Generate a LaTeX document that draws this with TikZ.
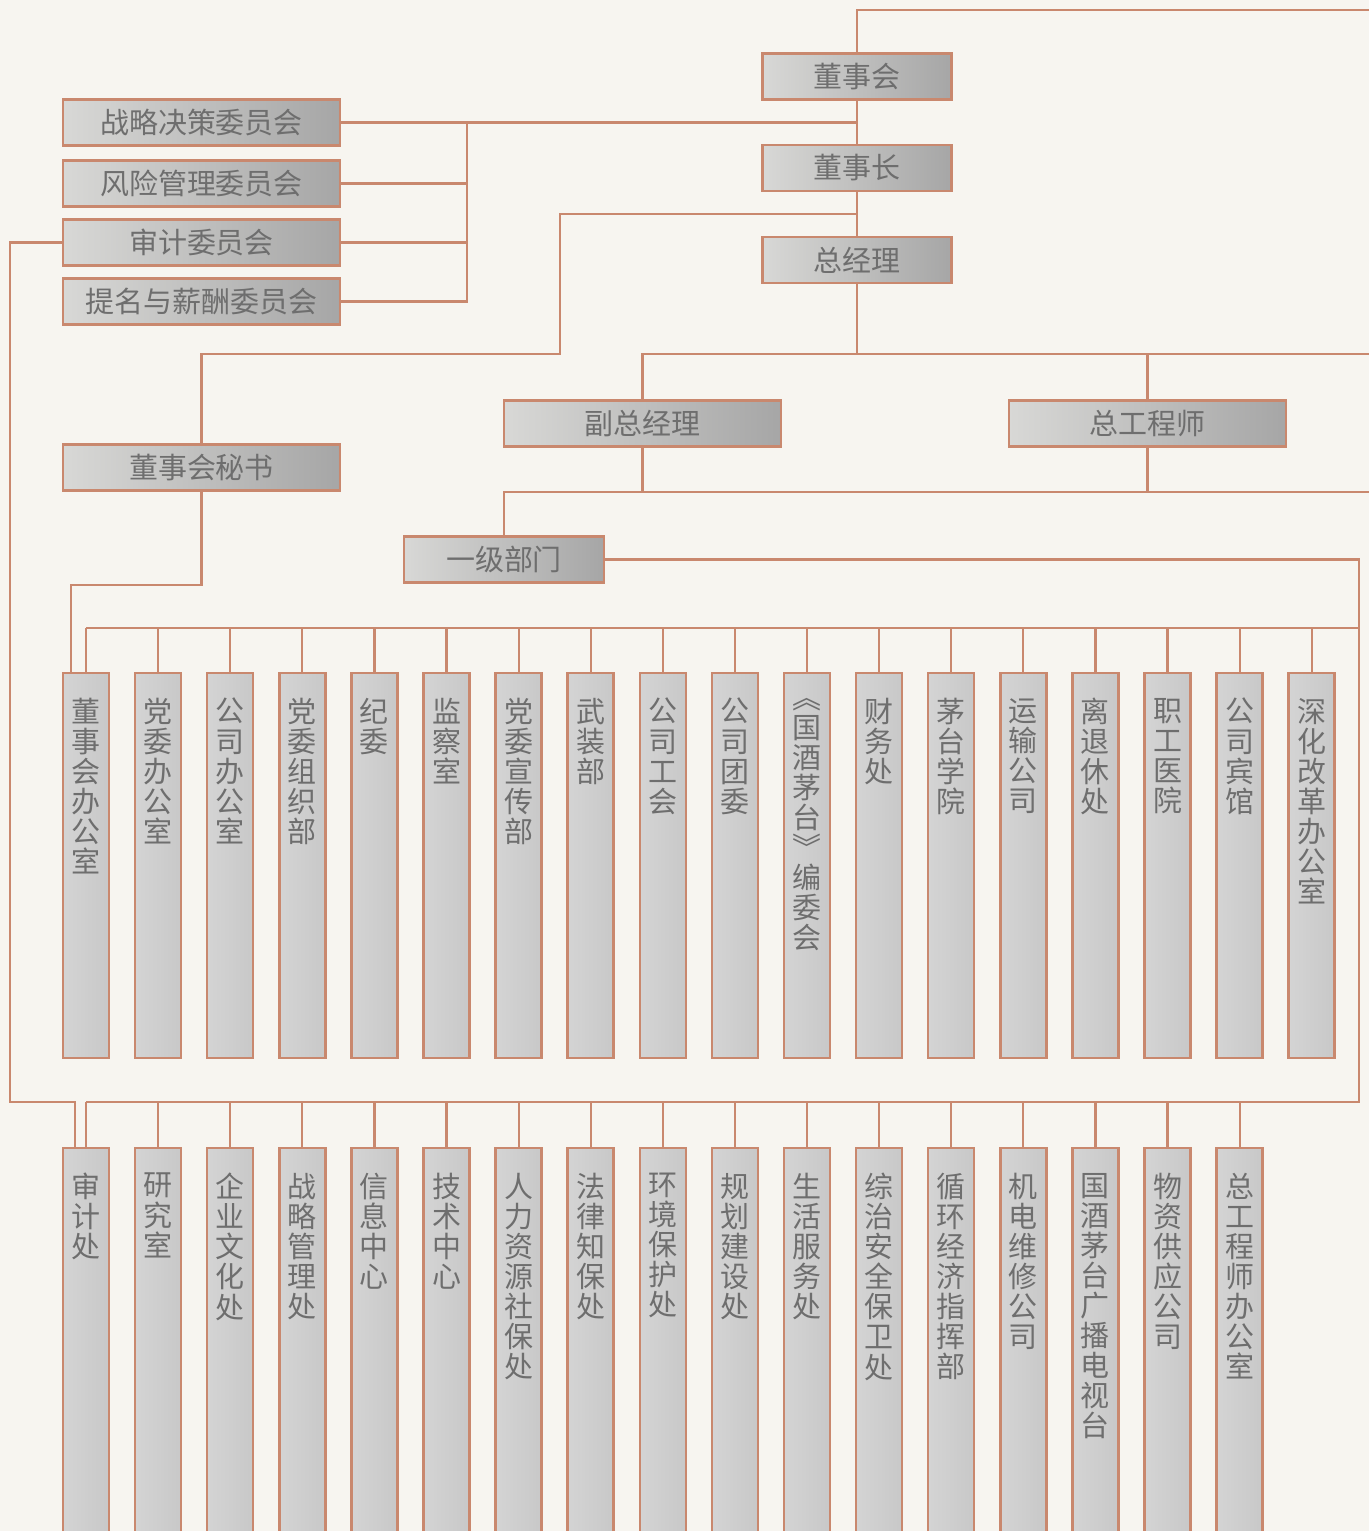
\documentclass[tikz,border=0pt]{standalone}
\usepackage{fontspec}
\newfontfamily\cjkfont{Noto Sans CJK SC}
\usepackage{tikz}
\usetikzlibrary{calc}

\definecolor{paper}{RGB}{247,245,240}
\definecolor{edge}{RGB}{201,136,110}
\definecolor{txt}{RGB}{110,110,110}
\definecolor{boxleft}{RGB}{216,216,214}
\definecolor{boxmid}{RGB}{228,228,226}
\definecolor{boxright}{RGB}{166,166,166}
\definecolor{colleft}{RGB}{212,212,212}
\definecolor{colmid}{RGB}{242,242,240}
\definecolor{colright}{RGB}{200,200,200}

\newcommand{\orgfont}{\cjkfont\fontsize{16.5}{17.1}\selectfont}
\def\stackchars#1{\ifx\relax#1\else#1\par\expandafter\stackchars\fi}
\newcommand{\vtext}[2]{\parbox[c][#1][t]{0.9cm}{\centering\vspace*{0.5cm}\stackchars#2\relax}}

\begin{document}
\begin{tikzpicture}[
    x=0.02cm, y=-0.02cm,
    box/.style={rectangle, draw=edge, line width=1.4pt, left color=boxleft, middle color=boxmid, right color=boxright, minimum width=5.54cm, minimum height=0.92cm, inner sep=0pt, text=txt, font=\orgfont},
    post/.style={box, minimum width=3.78cm},
    dept/.style={rectangle, draw=edge, line width=1.4pt, left color=colleft, middle color=colmid, right color=colright, minimum width=0.92cm, inner sep=0pt, anchor=north, text=txt, font=\orgfont},
    line/.style={draw=edge, line width=1.25pt}
]
    \path[use as bounding box, fill=paper] (0,0) rectangle (1369,1531);
    \clip (0,0) rectangle (1369,1531);

    % Board and management
    \node[post] (dsh) at (857,76.5) {董事会};
    \node[post] (dsz) at (857,168) {董事长};
    \node[post] (zjl) at (857,260) {总经理};

    % Committees
    \node[box] (zlc) at (201.5,122.5) {战略决策委员会};
    \node[box] (fxc) at (201.5,183.5) {风险管理委员会};
    \node[box] (sjc) at (201.5,242.5) {审计委员会};
    \node[box] (tmc) at (201.5,301.5) {提名与薪酬委员会};

    % Secretary, deputies, departments
    \node[box] (mishu) at (201.5,467.5) {董事会秘书};
    \node[box] (fzjl) at (642.5,423.5) {副总经理};
    \node[box] (zgcs) at (1147.5,423.5) {总工程师};
    \node[box, minimum width=4cm] (yjbm) at (504,559.5) {一级部门};

    % Upper row of departments
    \node[dept] (up1) at (86,672) {\vtext{7.7cm}{董事会办公室}};
    \node[dept] (up2) at (158.1,672) {\vtext{7.7cm}{党委办公室}};
    \node[dept] (up3) at (230.2,672) {\vtext{7.7cm}{公司办公室}};
    \node[dept] (up4) at (302.3,672) {\vtext{7.7cm}{党委组织部}};
    \node[dept] (up5) at (374.4,672) {\vtext{7.7cm}{纪委}};
    \node[dept] (up6) at (446.5,672) {\vtext{7.7cm}{监察室}};
    \node[dept] (up7) at (518.6,672) {\vtext{7.7cm}{党委宣传部}};
    \node[dept] (up8) at (590.7,672) {\vtext{7.7cm}{武装部}};
    \node[dept] (up9) at (662.8,672) {\vtext{7.7cm}{公司工会}};
    \node[dept] (up10) at (734.9,672) {\vtext{7.7cm}{公司团委}};
    \node[dept] (up11) at (807,672) {\vtext{7.7cm}{︽国酒茅台︾编委会}};
    \node[dept] (up12) at (879.1,672) {\vtext{7.7cm}{财务处}};
    \node[dept] (up13) at (951.2,672) {\vtext{7.7cm}{茅台学院}};
    \node[dept] (up14) at (1023.3,672) {\vtext{7.7cm}{运输公司}};
    \node[dept] (up15) at (1095.4,672) {\vtext{7.7cm}{离退休处}};
    \node[dept] (up16) at (1167.5,672) {\vtext{7.7cm}{职工医院}};
    \node[dept] (up17) at (1239.6,672) {\vtext{7.7cm}{公司宾馆}};
    \node[dept] (up18) at (1311.7,672) {\vtext{7.7cm}{深化改革办公室}};

    % Lower row of departments
    \node[dept] (lo1) at (86,1147) {\vtext{8cm}{审计处}};
    \node[dept] (lo2) at (158.1,1147) {\vtext{8cm}{研究室}};
    \node[dept] (lo3) at (230.2,1147) {\vtext{8cm}{企业文化处}};
    \node[dept] (lo4) at (302.3,1147) {\vtext{8cm}{战略管理处}};
    \node[dept] (lo5) at (374.4,1147) {\vtext{8cm}{信息中心}};
    \node[dept] (lo6) at (446.5,1147) {\vtext{8cm}{技术中心}};
    \node[dept] (lo7) at (518.6,1147) {\vtext{8cm}{人力资源社保处}};
    \node[dept] (lo8) at (590.7,1147) {\vtext{8cm}{法律知保处}};
    \node[dept] (lo9) at (662.8,1147) {\vtext{8cm}{环境保护处}};
    \node[dept] (lo10) at (734.9,1147) {\vtext{8cm}{规划建设处}};
    \node[dept] (lo11) at (807,1147) {\vtext{8cm}{生活服务处}};
    \node[dept] (lo12) at (879.1,1147) {\vtext{8cm}{综治安全保卫处}};
    \node[dept] (lo13) at (951.2,1147) {\vtext{8cm}{循环经济指挥部}};
    \node[dept] (lo14) at (1023.3,1147) {\vtext{8cm}{机电维修公司}};
    \node[dept] (lo15) at (1095.4,1147) {\vtext{8cm}{国酒茅台广播电视台}};
    \node[dept] (lo16) at (1167.5,1147) {\vtext{8cm}{物资供应公司}};
    \node[dept] (lo17) at (1239.6,1147) {\vtext{8cm}{总工程师办公室}};

    % Junction points
    \coordinate (topend) at (1369,10);
    \coordinate (brk) at (467,122.5);
    \coordinate (bar1) at (1369,354);
    \coordinate (bar2) at (1369,492);
    \coordinate (ubus) at (1359,628);
    \coordinate (lbus) at (1359,1102);

    % Trunk
    \draw[line] (dsh.north) |- (topend);
    \draw[line] (dsh.south) -- (dsz.north);
    \draw[line] (dsz.south) -- (zjl.north);
    \draw[line] (zjl.south) -- (zjl.south |- bar1);

    % Committees to board
    \draw[line] (zlc.east) -- (zlc.east -| dsh.south);
    \draw[line] (fxc.east) -| (brk);
    \draw[line] (sjc.east) -| (brk);
    \draw[line] (tmc.east) -| (brk);

    % Secretary
    \draw[line] ($(dsz.south)!0.5!(zjl.north)$) -| (560,354) -| (mishu.north);
    \draw[line] (mishu.south) -- ++(0,93) -| ([xshift=-0.3cm]up1.north);

    % Deputies
    \draw[line] (fzjl.north) |- (bar1);
    \draw[line] (zgcs.north) -- (zgcs.north |- bar1);
    \draw[line] (fzjl.south) -- (fzjl.south |- bar2);
    \draw[line] (zgcs.south) -- (zgcs.south |- bar2);
    \draw[line] (yjbm.north) |- (bar2);

    % Department buses
    \draw[line] (yjbm.east) -| (lbus) -- (lbus -| up1.north);
    \draw[line] (ubus) -- (ubus -| up1.north);
    \foreach \i in {1,...,18}
        \draw[line] (up\i.north) -- (up\i.north |- ubus);
    \foreach \i in {1,...,17}
        \draw[line] (lo\i.north) -- (lo\i.north |- lbus);

    % Audit committee to audit office
    \draw[line] (sjc.west) -| (10,1102) -| ([xshift=-0.22cm]lo1.north);
\end{tikzpicture}
\end{document}
